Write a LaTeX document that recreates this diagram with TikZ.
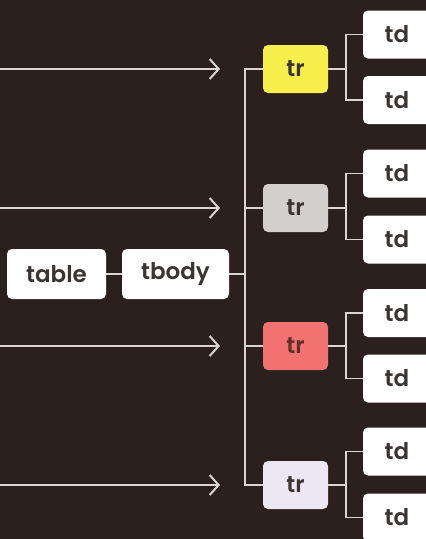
\documentclass[tikz,border=0pt]{standalone}
\usepackage{fontspec}
\setmainfont{Poppins}[UprightFont={* SemiBold}]
\usetikzlibrary{arrows.meta}
\definecolor{bg}{HTML}{2B201D}
\definecolor{ln}{HTML}{DAD4D2}
\definecolor{txt}{HTML}{3A3433}
\definecolor{yel}{HTML}{F6EF4C}
\definecolor{gry}{HTML}{D2CFCC}
\definecolor{red}{HTML}{F27272}
\definecolor{lav}{HTML}{EDE7F3}
\tikzset{
  box/.style={fill=white, rounded corners=5pt, text=txt, font=\fontsize{23}{23}\selectfont, inner sep=0pt, minimum height=48pt},
  trbox/.style={box, minimum width=65pt},
  tdbox/.style={box, minimum width=68pt},
  conn/.style={draw=ln, line width=1.8pt},
  arr/.style={draw=ln, line width=2pt, -{Straight Barb[length=9pt,width=20pt,line width=2pt]}}
}
\begin{document}
\begin{tikzpicture}[x=1pt,y=-1pt]
\fill[bg] (0,0) rectangle (426,539);
\useasboundingbox (0,0) rectangle (426,539);
% left nodes
\node[box, minimum width=99pt, minimum height=50pt] (table) at (56.5,274) {table};
\node[box, minimum width=107pt, minimum height=50pt] (tbody) at (175.5,274) {tbody};
% tr nodes
\node[trbox, fill=yel] (tr1) at (295.5,69) {tr};
\node[trbox, fill=gry] (tr2) at (295.5,208) {tr};
\node[trbox, fill=red, text=red!40!black] (tr3) at (295.5,346) {tr};
\node[trbox, fill=lav] (tr4) at (295.5,485) {tr};
% td nodes
\node[tdbox] (td1a) at (397,34.5) {td};
\node[tdbox] (td1b) at (397,100) {td};
\node[tdbox] (td2a) at (397,173.5) {td};
\node[tdbox] (td2b) at (397,239.5) {td};
\node[tdbox] (td3a) at (397,313) {td};
\node[tdbox] (td3b) at (397,378.5) {td};
\node[tdbox] (td4a) at (397,451.5) {td};
\node[tdbox] (td4b) at (397,517.5) {td};
% spine
\coordinate (sp) at (245,0);
\draw[conn] (table.east) -- (tbody.west);
\draw[conn] (tbody.east) -- (tbody.east -| sp);
\draw[conn] (tr1.west) -- (tr1.west -| sp) -- (tr4.west -| sp) -- (tr4.west);
\draw[conn] (tr2.west) -- (tr2.west -| sp);
\draw[conn] (tr3.west) -- (tr3.west -| sp);
% td branches
\coordinate (br) at (346,0);
\foreach \i in {1,2,3,4}{
  \draw[conn] (tr\i.east) -- (tr\i.east -| br);
  \draw[conn] (td\i a.west) -- (td\i a.west -| br) -- (td\i b.west -| br) -- (td\i b.west);
}
% arrows
\foreach \i/\y in {1/69,2/208,3/346,4/485}{
  \coordinate (s\i) at (0,\y);
  \coordinate (e\i) at (220,\y);
  \draw[arr] (s\i) -- (e\i);
}
\end{tikzpicture}
\end{document}
